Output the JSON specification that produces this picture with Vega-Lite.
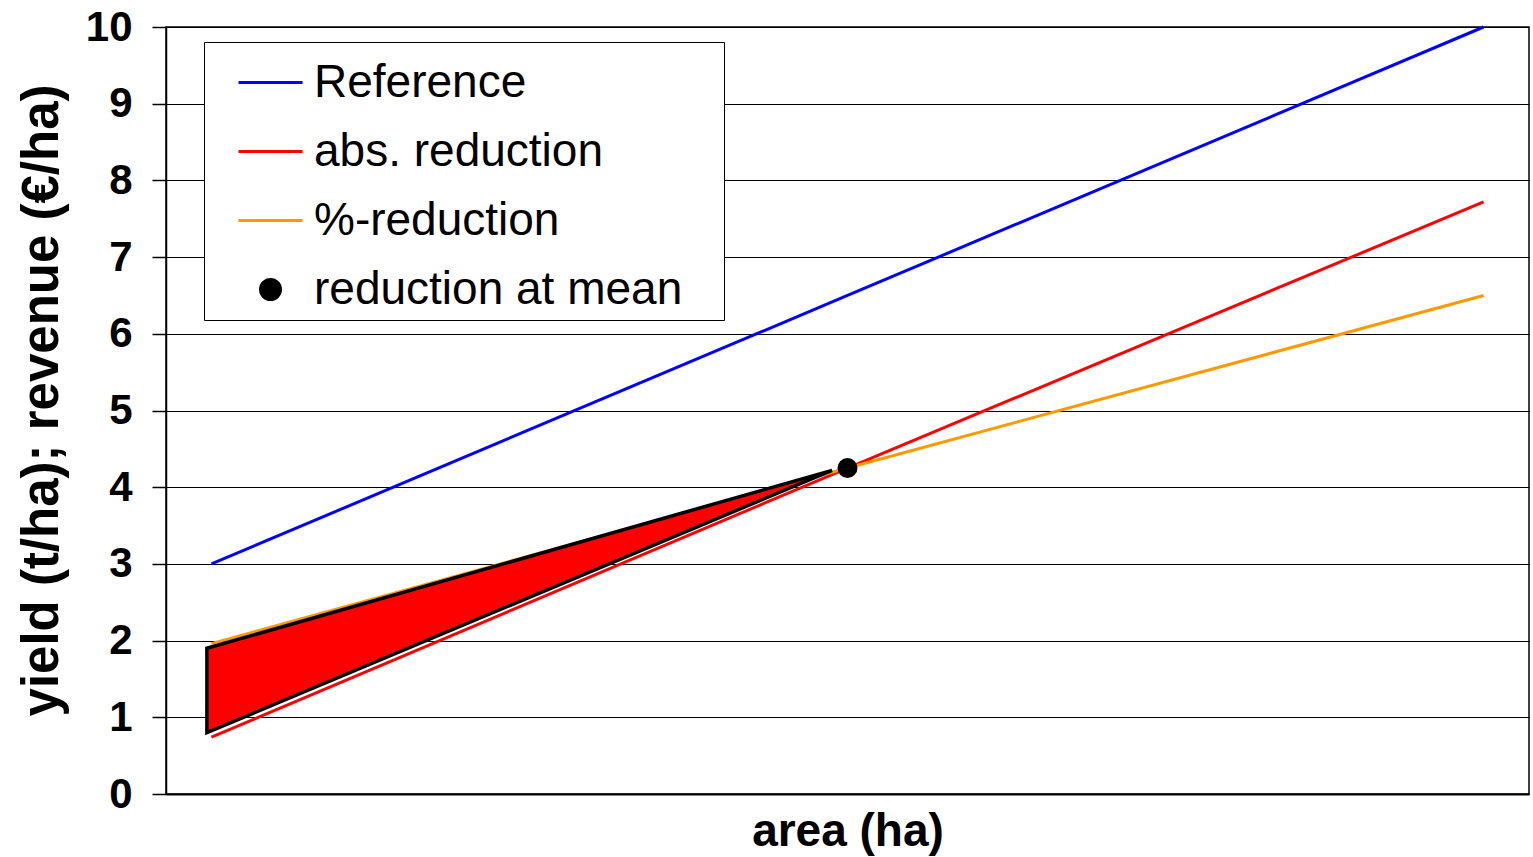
{
  "$schema": "https://vega.github.io/schema/vega-lite/v6.json",
  "width": 1363,
  "height": 767,
  "autosize": {"type": "none"},
  "padding": {"left": 166, "top": 27, "right": 4, "bottom": 63},
  "background": "white",
  "config": {
    "font": "Liberation Sans",
    "view": {"stroke": "black", "strokeWidth": 1.5}
  },
  "datasets": {
    "lines": [
      {"series": "Reference", "x": 1, "y": 3},
      {"series": "Reference", "x": 15, "y": 6.5},
      {"series": "Reference", "x": 29, "y": 10},
      {"series": "abs. reduction", "x": 1, "y": 0.74},
      {"series": "abs. reduction", "x": 15, "y": 4.25},
      {"series": "abs. reduction", "x": 29, "y": 7.72},
      {"series": "%-reduction", "x": 1, "y": 1.96},
      {"series": "%-reduction", "x": 15, "y": 4.25},
      {"series": "%-reduction", "x": 29, "y": 6.5}
    ],
    "triangle": [
      {"x": 0.9, "lo": 0.8, "hi": 1.9},
      {"x": 14.66, "lo": 4.22, "hi": 4.22}
    ],
    "mean": [
      {"x": 15, "y": 4.25}
    ]
  },
  "layer": [
    {
      "data": {"name": "lines"},
      "mark": {"type": "line", "strokeWidth": 3},
      "encoding": {
        "x": {
          "field": "x", "type": "quantitative",
          "scale": {"domain": [0, 30], "nice": false, "zero": false},
          "axis": {
            "title": "area (ha)", "labels": false, "ticks": false, "grid": false,
            "domainColor": "black", "domainWidth": 2,
            "titleFontSize": 46, "titleFontWeight": "bold", "titleColor": "black", "titlePadding": 15
          }
        },
        "y": {
          "field": "y", "type": "quantitative",
          "scale": {"domain": [0, 10], "nice": false},
          "axis": {
            "values": [0, 1, 2, 3, 4, 5, 6, 7, 8, 9, 10],
            "format": "d",
            "title": "yield (t/ha); revenue (€/ha)",
            "labelFontSize": 42, "labelFontWeight": "bold", "labelColor": "black", "labelPadding": 20,
            "tickSize": 14, "tickColor": "black", "tickWidth": 1.5,
            "domainColor": "black", "domainWidth": 1.5,
            "grid": true, "gridColor": "black", "gridWidth": 1, "gridOpacity": 1,
            "titleFontSize": 51, "titleFontWeight": "bold", "titleColor": "black", "titlePadding": 17,
            "titleY": 373
          }
        },
        "color": {
          "field": "series", "type": "nominal",
          "scale": {
            "domain": ["Reference", "abs. reduction", "%-reduction", "reduction at mean"],
            "range": ["#0000FF", "#FF0000", "#FF9900", "#000000"]
          },
          "legend": {
            "title": null,
            "orient": "none",
            "legendX": 38,
            "legendY": 15,
            "strokeColor": "black",
            "fillColor": "white",
            "padding": 7,
            "labelFontSize": 46,
            "labelColor": "black",
            "labelLimit": 0,
            "labelOffset": 10,
            "labelExpr": "datum.label === 'reduction at mean' ? datum.label + '\u2800' : datum.label",
            "symbolType": "stroke",
            "symbolSize": 4096,
            "symbolStrokeWidth": 3,
            "symbolOffset": 26,
            "rowPadding": 12,
            "encode": {
              "symbols": {
                "update": {
                  "shape": {"signal": "datum.value === 'reduction at mean' ? 'circle' : 'stroke'"},
                  "size": {"signal": "datum.value === 'reduction at mean' ? 400 : 4096"},
                  "fill": {"signal": "datum.value === 'reduction at mean' ? 'black' : 'transparent'"},
                  "strokeWidth": {"value": 3}
                }
              }
            }
          }
        }
      }
    },
    {
      "data": {"name": "triangle"},
      "mark": {"type": "area", "fill": "#FF0000", "stroke": "black", "strokeWidth": 3.5, "fillOpacity": 1},
      "encoding": {
        "x": {"field": "x", "type": "quantitative"},
        "y": {"field": "hi", "type": "quantitative"},
        "y2": {"field": "lo"}
      }
    },
    {
      "data": {"name": "mean"},
      "mark": {"type": "point", "filled": true, "color": "black", "size": 400, "opacity": 1},
      "encoding": {
        "x": {"field": "x", "type": "quantitative"},
        "y": {"field": "y", "type": "quantitative"}
      }
    }
  ]
}
